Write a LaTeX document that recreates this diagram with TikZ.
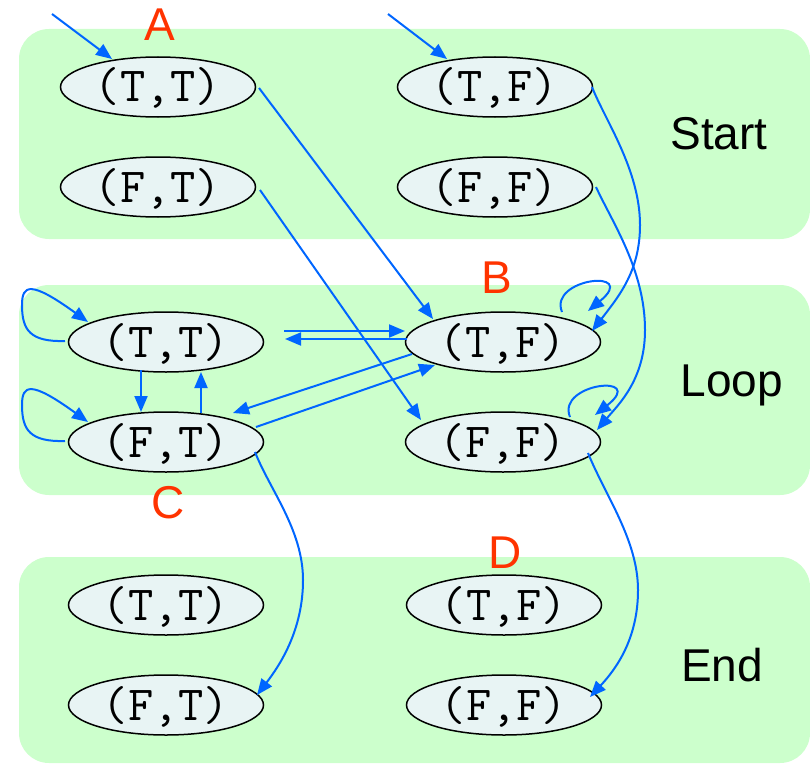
\documentclass[tikz,border=0pt]{standalone}
\usepackage{fontspec}
\setmainfont{Liberation Sans}
\usetikzlibrary{shapes.geometric,arrows.meta,calc}
\definecolor{panelgreen}{HTML}{CCFFCC}
\definecolor{statefill}{HTML}{E8F4F4}
\definecolor{edgeblue}{HTML}{0066FF}
\definecolor{labelred}{HTML}{FF3300}
\begin{document}
\begin{tikzpicture}[x=1pt,y=-1pt,
  panel/.style={fill=panelgreen, draw=none, rounded corners=30pt},
  state/.style={ellipse, draw=black, line width=1.5pt, fill=statefill,
    minimum width=195pt, minimum height=60pt, inner sep=0pt,
    text height=30pt, text depth=0pt,
    font=\fontsize{49}{49}\selectfont\ttfamily},
  tr/.style={draw=edgeblue, line width=2pt, -{Triangle[length=16pt,width=13pt]}},
  tag/.style={text=labelred, font=\fontsize{46}{46}\selectfont, inner sep=0pt, text depth=0pt},
  phase/.style={font=\fontsize{46}{46}\selectfont, inner sep=0pt, text depth=0pt}
]
\useasboundingbox (0,0) rectangle (810,765);
% panels
\fill[panel] (19,29) rectangle (810,239);
\fill[panel] (19,285) rectangle (810,495);
\fill[panel] (19,557) rectangle (810,763);

% states
\node[state] (stt) at (158,87) {(T,T)};
\node[state] (sft) at (158,187) {(F,T)};
\node[state] (stf) at (495,87) {(T,F)};
\node[state] (sff) at (495,187) {(F,F)};
\node[state] (ltt) at (166,342) {(T,T)};
\node[state] (lft) at (166,442) {(F,T)};
\node[state] (ltf) at (503,342) {(T,F)};
\node[state] (lff) at (503,442) {(F,F)};
\node[state] (ett) at (166,605) {(T,T)};
\node[state] (eft) at (166,705) {(F,T)};
\node[state] (etf) at (504,605) {(T,F)};
\node[state] (eff) at (504,705) {(F,F)};

% labels
\node[tag] (labA) at (160,25) {A};
\node[tag] (labB) at (497,278) {B};
\node[tag] (labC) at (168,502) {C};
\node[tag] (labD) at (505,553) {D};
\node[phase] (pstart) at (719,133) {Start};
\node[phase] (ploop) at (732,381) {Loop};
\node[phase] (pend) at (722,665) {End};

% initial arrows
\coordinate (initA) at (52,14);
\coordinate (initB) at (388,14);
\draw[tr] (initA) -- ($(stt.center)+(-46,-28)$);
\draw[tr] (initB) -- ($(stf.center)+(-48,-28)$);

% start -> loop
\draw[tr] ($(stt.center)+(101,1)$) -- ($(ltf.center)+(-70,-23)$);
\draw[tr] ($(sft.center)+(102,3)$) -- ($(lff.center)+(-82,-22)$);
\draw[tr] ($(stf.center)+(97,0)$) .. controls (605,120) and (640,170) .. (640,225)
  .. controls (640,270) and (620,295) .. ($(ltf.center)+(89,-11)$);
\draw[tr] ($(sff.center)+(101,0)$) .. controls (612,222) and (645,270) .. (645,330)
  .. controls (645,380) and (618,405) .. ($(lff.center)+(94,-12)$);

% self loops right
\draw[tr] ($(ltf.center)+(59,-30)$) .. controls (548,278) and (640,268) .. ($(ltf.center)+(85,-31)$);
\draw[tr] ($(lff.center)+(67,-25)$) .. controls (556,383) and (648,373) .. ($(lff.center)+(92,-27)$);

% horizontal pair
\draw[tr] ($(ltt.center)+(118,-11)$) -- ($(ltf.center)+(-98,-11)$);
\draw[tr] ($(ltf.center)+(-96,-3)$) -- ($(ltt.center)+(119,-3)$);

% vertical pair
\draw[tr] ($(ltt.center)+(-25,28)$) -- ($(lft.center)+(-25,-30)$);
\draw[tr] ($(lft.center)+(35,-29)$) -- ($(ltt.center)+(35,30)$);

% self loops left
\draw[tr] ($(ltt.center)+(-101,-1)$) .. controls (30,342) and (22,330) .. (22,305)
  .. controls (22,285) and (30,280) .. ($(ltt.center)+(-78,-20)$);
\draw[tr] ($(lft.center)+(-101,-1)$) .. controls (30,442) and (22,430) .. (22,405)
  .. controls (22,385) and (30,380) .. ($(lft.center)+(-78,-20)$);

% diagonal pair
\draw[tr] ($(ltf.center)+(-91,12)$) -- ($(lft.center)+(67,-29)$);
\draw[tr] ($(lft.center)+(90,-15)$) -- ($(ltf.center)+(-68,23)$);

% loop -> end
\draw[tr] ($(lft.center)+(89,10)$) .. controls (270,490) and (303,530) .. (303,580)
  .. controls (303,630) and (280,665) .. ($(eft.center)+(91,-10)$);
\draw[tr] ($(lff.center)+(85,11)$) .. controls (605,495) and (638,540) .. (638,590)
  .. controls (638,640) and (615,670) .. ($(eff.center)+(86,-8)$);
\end{tikzpicture}
\end{document}
